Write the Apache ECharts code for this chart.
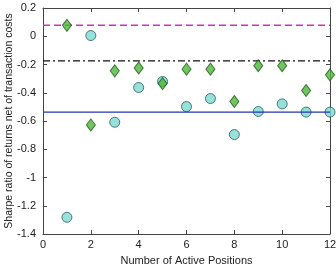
<!DOCTYPE html>
<html><head><meta charset="utf-8">
<script src="https://cdn.jsdelivr.net/npm/echarts@6/dist/echarts.min.js"></script>
<style>html,body{margin:0;padding:0;background:#fff}#c{width:336px;height:268px}</style>
</head><body><div id="c"></div>
<script>
const positions = [1,2,3,4,5,6,7,8,9,10,11,12];
const circleValues = [-1.282,0.005,-0.609,-0.363,-0.32,-0.498,-0.441,-0.696,-0.533,-0.479,-0.537,-0.537];
const diamondValues = [0.077,-0.628,-0.245,-0.225,-0.335,-0.233,-0.233,-0.462,-0.209,-0.209,-0.384,-0.273];
const magentaLevel = 0.077;
const blackLevel = -0.174;
const blueLevel = -0.537;
const xRange = [0, 12];
const yRange = [-1.4, 0.2];

const font = 'Liberation Sans, Arial, sans-serif';
const pair = (xs, ys) => xs.map((x, i) => [x, ys[i]]);
const hline = v => [[xRange[0], v], [xRange[1], v]];
const axisCommon = {
  axisLine: {show: true, onZero: false, lineStyle: {color: '#444', width: 1}},
  axisTick: {show: true, inside: true, length: 4, lineStyle: {color: '#444'}},
  splitLine: {show: false}
};
const chart = echarts.init(document.getElementById('c'));
chart.setOption({
  animation: false,
  grid: {left: 43, right: 6, top: 8, bottom: 34, containLabel: false, outerBoundsMode: 'none'},
  xAxis: [
    Object.assign({type: 'value', min: xRange[0], max: xRange[1], interval: 2,
      name: 'Number of Active Positions', nameLocation: 'middle', nameGap: 21, nameMoveOverlap: false,
      nameTextStyle: {fontFamily: font, fontSize: 11, color: '#222'},
      axisLabel: {fontFamily: font, fontSize: 11, color: '#222', margin: 5}}, axisCommon),
    Object.assign({type: 'value', position: 'top', min: xRange[0], max: xRange[1], interval: 2,
      axisLabel: {show: false}}, axisCommon)
  ],
  yAxis: [
    Object.assign({type: 'value', min: yRange[0], max: yRange[1], interval: 0.2,
      name: 'Sharpe ratio of returns net of transaction costs', nameLocation: 'middle', nameGap: 28,
      nameMoveOverlap: false,
      nameTextStyle: {fontFamily: font, fontSize: 10.5, color: '#222'},
      axisLabel: {fontFamily: font, fontSize: 11, color: '#222', margin: 7,
        formatter: v => String(Number(v.toFixed(1)))}}, axisCommon),
    Object.assign({type: 'value', position: 'right', min: yRange[0], max: yRange[1], interval: 0.2,
      axisLabel: {show: false}}, axisCommon)
  ],
  series: [
    {type: 'scatter', data: pair(positions, circleValues), symbol: 'circle', symbolSize: 10, z: 2,
      itemStyle: {color: '#7dd9d5', borderColor: '#2a5a5a', borderWidth: 1}},
    {type: 'line', data: hline(magentaLevel), symbol: 'none', z: 3,
      lineStyle: {color: '#d42cc8', width: 1.5, type: [7, 4]}},
    {type: 'line', data: hline(blackLevel), symbol: 'none', z: 3,
      lineStyle: {color: '#111', width: 1.4, type: [7, 3, 2, 3]}},
    {type: 'line', data: hline(blueLevel), symbol: 'none', z: 3,
      lineStyle: {color: '#2233bb', width: 1.4}},
    {type: 'scatter', data: pair(positions, diamondValues), symbol: 'diamond', symbolSize: [9, 12], z: 4,
      itemStyle: {color: '#4cb83a', borderColor: '#1e5a14', borderWidth: 1}}
  ]
});
</script></body></html>
